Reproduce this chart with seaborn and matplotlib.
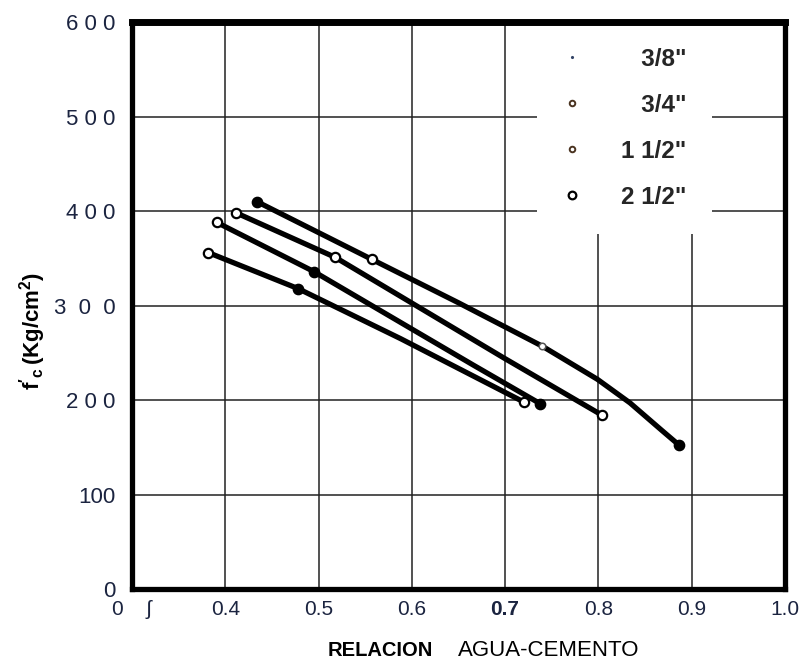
import matplotlib
matplotlib.use("Agg")
import matplotlib.pyplot as plt
from matplotlib.lines import Line2D
import pandas as pd
import seaborn as sns

# Compressive strength f'c (kg/cm2) versus water-cement ratio, per max. aggregate size
sizes = ['3/8"', '3/4"', '1 1/2"', '2 1/2"']

wc_3_8 = [0.434, 0.557, 0.650, 0.740, 0.799, 0.834, 0.868, 0.887]
fc_3_8 = [410, 349, 303, 257, 222, 197, 168, 152]

wc_3_4 = [0.412, 0.518, 0.698, 0.804]
fc_3_4 = [398, 351, 245, 184]

wc_1_1_2 = [0.391, 0.495, 0.666, 0.738]
fc_1_1_2 = [388, 336, 237, 196]

wc_2_1_2 = [0.382, 0.478, 0.588, 0.720]
fc_2_1_2 = [356, 318, 265, 198]

x_ticks = [0.3, 0.4, 0.5, 0.6, 0.7, 0.8, 0.9, 1.0]
x_tick_labels = ["0    \u0283", "0.4", "0.5", "0.6", "0.7", "0.8", "0.9", "1.0"]
y_ticks = [0, 100, 200, 300, 400, 500, 600]
y_tick_labels = ["0", "100", "2 0 0", "3  0  0", "4 0 0", "5 0 0", "6 0 0"]

curves = {
    sizes[0]: (wc_3_8, fc_3_8),
    sizes[1]: (wc_3_4, fc_3_4),
    sizes[2]: (wc_1_1_2, fc_1_1_2),
    sizes[3]: (wc_2_1_2, fc_2_1_2),
}

rows = []
for name, (xs, ys) in curves.items():
    for i, (xv, yv) in enumerate(zip(xs, ys)):
        rows.append({"serie": name, "idx": i, "wc": xv, "fc": yv})
df = pd.DataFrame(rows)

# which plotted points carry a marker, and how it is drawn
hollow = {sizes[0]: [1], sizes[1]: [0, 1, 3], sizes[2]: [0], sizes[3]: [0, 3]}
solid = {sizes[0]: [0, 7], sizes[1]: [], sizes[2]: [1, 3], sizes[3]: [1]}
faint = {sizes[0]: [3], sizes[1]: [], sizes[2]: [], sizes[3]: []}


def pick(groups):
    return df.apply(lambda r: r["idx"] in groups[r["serie"]], axis=1)


sns.set_theme(style="white")
plt.rcParams["font.family"] = ["Liberation Sans", "DejaVu Sans"]
plt.rcParams["mathtext.fontset"] = "custom"
plt.rcParams["mathtext.bf"] = "Liberation Sans:bold"
plt.rcParams["mathtext.rm"] = "Liberation Sans"

fig = plt.figure(figsize=(8, 6.63), dpi=100)
ax = fig.add_axes([0.165, 0.1116, 0.816, 0.855])

sns.lineplot(data=df, x="wc", y="fc", hue="serie", sort=False,
             palette=["black"] * 4, linewidth=3.8, legend=False, ax=ax,
             estimator=None, zorder=3)

sns.scatterplot(data=df[pick(hollow)], x="wc", y="fc", s=45, marker="o",
                facecolor="white", edgecolor="black", linewidth=1.6,
                legend=False, ax=ax, zorder=4)
sns.scatterplot(data=df[pick(solid)], x="wc", y="fc", s=55, marker="o",
                color="black", edgecolor="black", linewidth=1.0,
                legend=False, ax=ax, zorder=4)
sns.scatterplot(data=df[pick(faint)], x="wc", y="fc", s=22, marker="o",
                facecolor="white", edgecolor="#555555", linewidth=1.1,
                legend=False, ax=ax, zorder=4)

ax.set_xlim(0.3, 1.0)
ax.set_ylim(0, 600)
ax.set_xticks(x_ticks)
ax.set_xticklabels(x_tick_labels)
ax.set_yticks(y_ticks)
ax.set_yticklabels(y_tick_labels)
ax.set_xlabel("")
ax.set_ylabel("")

tick_color = "#1b2440"
ax.tick_params(axis="both", length=0, colors=tick_color)
ax.tick_params(axis="x", pad=8)
ax.tick_params(axis="y", pad=12)
for lab in ax.get_xticklabels():
    lab.set_fontsize(15)
for lab in ax.get_yticklabels():
    lab.set_fontsize(16)
ax.get_xticklabels()[4].set_fontweight("bold")

ax.set_axisbelow(True)
ax.grid(True, color="#222222", linewidth=1.1)
for side in ["left", "right", "top", "bottom"]:
    ax.spines[side].set_visible(True)
    ax.spines[side].set_color("black")
    ax.spines[side].set_linewidth(3.8)
    ax.spines[side].set_zorder(6)
ax.spines["top"].set_linewidth(5)

handles = [
    Line2D([], [], ls="none", marker=".", ms=2.5, color="#334466"),
    Line2D([], [], ls="none", marker="o", ms=4, mfc="white", mec="#4a3320", mew=1.4),
    Line2D([], [], ls="none", marker="o", ms=4, mfc="white", mec="#4a3320", mew=1.4),
    Line2D([], [], ls="none", marker="o", ms=5.5, mfc="white", mec="black", mew=1.6),
]
labels = ["\u2007 " + sizes[0], "\u2007 " + sizes[1], sizes[2], sizes[3]]
leg = ax.legend(handles, labels, loc="upper left",
                bbox_to_anchor=(0.62, 1.0), frameon=True, facecolor="white",
                edgecolor="none", framealpha=1.0, fancybox=False,
                borderpad=1.05, handlelength=0.8, handletextpad=1.6,
                labelspacing=0.95, borderaxespad=0.0,
                prop={"family": ["Liberation Sans", "DejaVu Sans"],
                      "weight": "bold", "size": 17.5})
leg.set_zorder(5)

fig.text(380 / 800, 1 - 650 / 663, "RELACION", ha="center", va="center",
         fontsize=14.5, fontweight="bold", color="black")
fig.text(458 / 800, 1 - 651 / 663, "AGUA-CEMENTO", ha="left", va="center",
         fontsize=16, color="black")
fig.text(33 / 800, 1 - 331 / 663, r"$\mathbf{f'_c\,(Kg/cm^2)}$", rotation=90,
         ha="center", va="center", fontsize=16, color="black")

fig.savefig("out.png", dpi=100, facecolor="white")
